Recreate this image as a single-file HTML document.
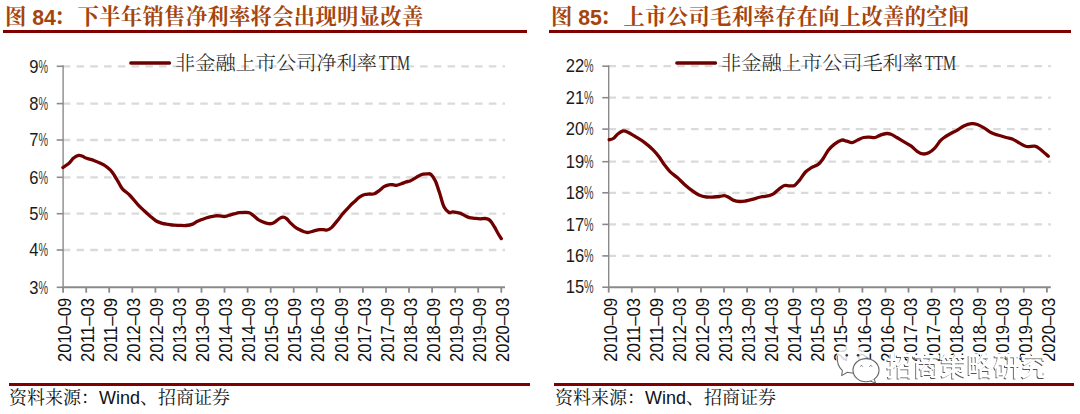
<!DOCTYPE html>
<html><head><meta charset="utf-8"><title>chart</title>
<style>
html,body{margin:0;padding:0;background:#fff;}
body{width:1080px;height:414px;overflow:hidden;position:relative;}
svg{position:absolute;left:0;top:0;}
.yl{font-family:'Liberation Sans', sans-serif;font-size:17.9px;fill:#1a1a1a;}
.pc{fill:#3a3a3a;}
.xl{font-family:'Liberation Sans', sans-serif;font-size:18.3px;fill:#111;}
.lg{font-family:'Noto Serif CJK SC','Liberation Serif',serif;font-size:19px;font-weight:300;fill:#222;}
.lgt{font-family:'Liberation Serif','Noto Serif CJK SC',serif;font-size:20px;fill:#333;}
.tt{font-family:'Liberation Sans','Noto Serif CJK SC',serif;font-size:21.3px;font-weight:bold;fill:#a5450c;}
.tn{font-weight:bold;}
.tc{letter-spacing:0.33px;}
.ft{font-family:'Liberation Sans','Noto Serif CJK SC',serif;font-size:18px;fill:#111;}
.wm{font-family:'Liberation Sans','Noto Sans CJK SC',sans-serif;font-size:26.5px;font-weight:500;fill:#fff;}
.wms{fill:#555;}
</style></head><body>
<svg width="1080" height="414" viewBox="0 0 1080 414">
<line x1="62.83" y1="66.3" x2="505.0" y2="66.3" stroke="#dadada" stroke-width="2.3" stroke-dasharray="7.55 6.19"/>
<line x1="62.83" y1="103.6" x2="505.0" y2="103.6" stroke="#dadada" stroke-width="2.3" stroke-dasharray="7.55 6.19"/>
<line x1="62.83" y1="140.0" x2="505.0" y2="140.0" stroke="#dadada" stroke-width="2.3" stroke-dasharray="7.55 6.19"/>
<line x1="62.83" y1="177.3" x2="505.0" y2="177.3" stroke="#dadada" stroke-width="2.3" stroke-dasharray="7.55 6.19"/>
<line x1="62.83" y1="213.7" x2="505.0" y2="213.7" stroke="#dadada" stroke-width="2.3" stroke-dasharray="7.55 6.19"/>
<line x1="62.83" y1="250.0" x2="505.0" y2="250.0" stroke="#dadada" stroke-width="2.3" stroke-dasharray="7.55 6.19"/>
<line x1="63.1" y1="65.3" x2="63.1" y2="287.3" stroke="#8a8a8a" stroke-width="1.4"/>
<line x1="56.7" y1="66.3" x2="63.1" y2="66.3" stroke="#8a8a8a" stroke-width="1.6"/>
<text y="72.5" class="yl"><tspan x="29.3" textLength="9.2" lengthAdjust="spacingAndGlyphs">9</tspan><tspan x="38.5" class="pc" textLength="9.6" lengthAdjust="spacingAndGlyphs">%</tspan></text>
<line x1="56.7" y1="103.6" x2="63.1" y2="103.6" stroke="#8a8a8a" stroke-width="1.6"/>
<text y="109.8" class="yl"><tspan x="29.3" textLength="9.2" lengthAdjust="spacingAndGlyphs">8</tspan><tspan x="38.5" class="pc" textLength="9.6" lengthAdjust="spacingAndGlyphs">%</tspan></text>
<line x1="56.7" y1="140.0" x2="63.1" y2="140.0" stroke="#8a8a8a" stroke-width="1.6"/>
<text y="146.2" class="yl"><tspan x="29.3" textLength="9.2" lengthAdjust="spacingAndGlyphs">7</tspan><tspan x="38.5" class="pc" textLength="9.6" lengthAdjust="spacingAndGlyphs">%</tspan></text>
<line x1="56.7" y1="177.3" x2="63.1" y2="177.3" stroke="#8a8a8a" stroke-width="1.6"/>
<text y="183.5" class="yl"><tspan x="29.3" textLength="9.2" lengthAdjust="spacingAndGlyphs">6</tspan><tspan x="38.5" class="pc" textLength="9.6" lengthAdjust="spacingAndGlyphs">%</tspan></text>
<line x1="56.7" y1="213.7" x2="63.1" y2="213.7" stroke="#8a8a8a" stroke-width="1.6"/>
<text y="219.9" class="yl"><tspan x="29.3" textLength="9.2" lengthAdjust="spacingAndGlyphs">5</tspan><tspan x="38.5" class="pc" textLength="9.6" lengthAdjust="spacingAndGlyphs">%</tspan></text>
<line x1="56.7" y1="250.0" x2="63.1" y2="250.0" stroke="#8a8a8a" stroke-width="1.6"/>
<text y="256.2" class="yl"><tspan x="29.3" textLength="9.2" lengthAdjust="spacingAndGlyphs">4</tspan><tspan x="38.5" class="pc" textLength="9.6" lengthAdjust="spacingAndGlyphs">%</tspan></text>
<line x1="56.7" y1="287.3" x2="63.1" y2="287.3" stroke="#8a8a8a" stroke-width="1.6"/>
<text y="293.5" class="yl"><tspan x="29.3" textLength="9.2" lengthAdjust="spacingAndGlyphs">3</tspan><tspan x="38.5" class="pc" textLength="9.6" lengthAdjust="spacingAndGlyphs">%</tspan></text>
<line x1="62.4" y1="287.3" x2="505.0" y2="287.3" stroke="#8a8a8a" stroke-width="2.1"/>
<line x1="63.1" y1="287.3" x2="63.1" y2="292.7" stroke="#8a8a8a" stroke-width="1.8"/>
<text transform="translate(70.7,297.9) rotate(-90)" text-anchor="end" class="xl" textLength="64" lengthAdjust="spacingAndGlyphs">2010–09</text>
<line x1="86.2" y1="287.3" x2="86.2" y2="292.7" stroke="#8a8a8a" stroke-width="1.8"/>
<text transform="translate(93.8,297.9) rotate(-90)" text-anchor="end" class="xl" textLength="64" lengthAdjust="spacingAndGlyphs">2011–03</text>
<line x1="109.2" y1="287.3" x2="109.2" y2="292.7" stroke="#8a8a8a" stroke-width="1.8"/>
<text transform="translate(116.8,297.9) rotate(-90)" text-anchor="end" class="xl" textLength="64" lengthAdjust="spacingAndGlyphs">2011–09</text>
<line x1="132.3" y1="287.3" x2="132.3" y2="292.7" stroke="#8a8a8a" stroke-width="1.8"/>
<text transform="translate(139.9,297.9) rotate(-90)" text-anchor="end" class="xl" textLength="64" lengthAdjust="spacingAndGlyphs">2012–03</text>
<line x1="155.4" y1="287.3" x2="155.4" y2="292.7" stroke="#8a8a8a" stroke-width="1.8"/>
<text transform="translate(163.0,297.9) rotate(-90)" text-anchor="end" class="xl" textLength="64" lengthAdjust="spacingAndGlyphs">2012–09</text>
<line x1="178.4" y1="287.3" x2="178.4" y2="292.7" stroke="#8a8a8a" stroke-width="1.8"/>
<text transform="translate(186.0,297.9) rotate(-90)" text-anchor="end" class="xl" textLength="64" lengthAdjust="spacingAndGlyphs">2013–03</text>
<line x1="201.5" y1="287.3" x2="201.5" y2="292.7" stroke="#8a8a8a" stroke-width="1.8"/>
<text transform="translate(209.1,297.9) rotate(-90)" text-anchor="end" class="xl" textLength="64" lengthAdjust="spacingAndGlyphs">2013–09</text>
<line x1="224.5" y1="287.3" x2="224.5" y2="292.7" stroke="#8a8a8a" stroke-width="1.8"/>
<text transform="translate(232.1,297.9) rotate(-90)" text-anchor="end" class="xl" textLength="64" lengthAdjust="spacingAndGlyphs">2014–03</text>
<line x1="247.6" y1="287.3" x2="247.6" y2="292.7" stroke="#8a8a8a" stroke-width="1.8"/>
<text transform="translate(255.2,297.9) rotate(-90)" text-anchor="end" class="xl" textLength="64" lengthAdjust="spacingAndGlyphs">2014–09</text>
<line x1="270.7" y1="287.3" x2="270.7" y2="292.7" stroke="#8a8a8a" stroke-width="1.8"/>
<text transform="translate(278.3,297.9) rotate(-90)" text-anchor="end" class="xl" textLength="64" lengthAdjust="spacingAndGlyphs">2015–03</text>
<line x1="293.7" y1="287.3" x2="293.7" y2="292.7" stroke="#8a8a8a" stroke-width="1.8"/>
<text transform="translate(301.3,297.9) rotate(-90)" text-anchor="end" class="xl" textLength="64" lengthAdjust="spacingAndGlyphs">2015–09</text>
<line x1="316.8" y1="287.3" x2="316.8" y2="292.7" stroke="#8a8a8a" stroke-width="1.8"/>
<text transform="translate(324.4,297.9) rotate(-90)" text-anchor="end" class="xl" textLength="64" lengthAdjust="spacingAndGlyphs">2016–03</text>
<line x1="339.9" y1="287.3" x2="339.9" y2="292.7" stroke="#8a8a8a" stroke-width="1.8"/>
<text transform="translate(347.5,297.9) rotate(-90)" text-anchor="end" class="xl" textLength="64" lengthAdjust="spacingAndGlyphs">2016–09</text>
<line x1="362.9" y1="287.3" x2="362.9" y2="292.7" stroke="#8a8a8a" stroke-width="1.8"/>
<text transform="translate(370.5,297.9) rotate(-90)" text-anchor="end" class="xl" textLength="64" lengthAdjust="spacingAndGlyphs">2017–03</text>
<line x1="386.0" y1="287.3" x2="386.0" y2="292.7" stroke="#8a8a8a" stroke-width="1.8"/>
<text transform="translate(393.6,297.9) rotate(-90)" text-anchor="end" class="xl" textLength="64" lengthAdjust="spacingAndGlyphs">2017–09</text>
<line x1="409.0" y1="287.3" x2="409.0" y2="292.7" stroke="#8a8a8a" stroke-width="1.8"/>
<text transform="translate(416.6,297.9) rotate(-90)" text-anchor="end" class="xl" textLength="64" lengthAdjust="spacingAndGlyphs">2018–03</text>
<line x1="432.1" y1="287.3" x2="432.1" y2="292.7" stroke="#8a8a8a" stroke-width="1.8"/>
<text transform="translate(439.7,297.9) rotate(-90)" text-anchor="end" class="xl" textLength="64" lengthAdjust="spacingAndGlyphs">2018–09</text>
<line x1="455.2" y1="287.3" x2="455.2" y2="292.7" stroke="#8a8a8a" stroke-width="1.8"/>
<text transform="translate(462.8,297.9) rotate(-90)" text-anchor="end" class="xl" textLength="64" lengthAdjust="spacingAndGlyphs">2019–03</text>
<line x1="478.2" y1="287.3" x2="478.2" y2="292.7" stroke="#8a8a8a" stroke-width="1.8"/>
<text transform="translate(485.8,297.9) rotate(-90)" text-anchor="end" class="xl" textLength="64" lengthAdjust="spacingAndGlyphs">2019–09</text>
<line x1="501.3" y1="287.3" x2="501.3" y2="292.7" stroke="#8a8a8a" stroke-width="1.8"/>
<text transform="translate(508.9,297.9) rotate(-90)" text-anchor="end" class="xl" textLength="64" lengthAdjust="spacingAndGlyphs">2020–03</text>
<path d="M62.9,167.6 C64.0,166.8 67.6,164.4 69.3,162.9 C71.0,161.4 71.8,159.6 73.3,158.3 C74.8,157.1 77.0,155.7 78.6,155.4 C80.1,155.1 81.3,155.8 82.6,156.3 C83.9,156.8 84.6,157.6 86.6,158.3 C88.6,159.0 91.6,159.6 94.5,160.7 C97.4,161.8 101.1,163.3 103.8,164.9 C106.5,166.5 108.7,168.4 110.5,170.2 C112.3,172.0 113.1,173.5 114.4,175.5 C115.7,177.5 117.1,180.0 118.4,182.2 C119.7,184.4 120.5,186.6 122.4,188.8 C124.3,191.0 127.4,192.8 130.0,195.5 C132.6,198.2 135.7,202.2 138.1,204.8 C140.5,207.4 142.2,208.9 144.2,210.8 C146.2,212.7 148.2,214.5 150.2,216.2 C152.2,217.9 154.2,219.8 156.2,221.0 C158.2,222.2 160.2,222.8 162.2,223.4 C164.2,224.0 166.3,224.1 168.3,224.4 C170.3,224.7 172.1,225.0 174.0,225.2 C175.9,225.4 178.0,225.3 180.0,225.4 C182.0,225.5 183.9,225.7 186.0,225.5 C188.1,225.3 190.9,224.8 192.7,224.1 C194.5,223.4 195.5,222.3 196.9,221.6 C198.3,220.9 199.6,220.4 201.0,219.8 C202.4,219.2 203.9,218.7 205.4,218.2 C206.9,217.7 208.3,217.2 210.0,216.8 C211.7,216.4 213.9,216.0 215.5,215.8 C217.1,215.7 218.1,215.8 219.5,215.9 C220.9,216.0 222.7,216.5 224.0,216.5 C225.3,216.5 226.4,216.1 227.5,215.8 C228.6,215.5 229.4,215.2 230.7,214.8 C231.9,214.5 233.6,214.0 235.0,213.7 C236.4,213.3 237.5,212.9 239.2,212.7 C240.9,212.5 243.4,212.3 245.1,212.3 C246.8,212.3 247.9,212.1 249.3,212.7 C250.7,213.2 251.9,214.4 253.5,215.6 C255.1,216.8 256.6,218.7 258.6,219.9 C260.6,221.1 263.3,222.2 265.4,222.8 C267.5,223.4 269.6,223.9 271.3,223.7 C273.0,223.5 274.1,222.5 275.5,221.6 C276.9,220.7 278.4,219.1 279.7,218.4 C281.0,217.7 282.0,217.2 283.1,217.2 C284.2,217.2 285.2,217.6 286.5,218.6 C287.8,219.6 289.3,221.8 290.7,223.2 C292.1,224.6 293.5,225.9 294.9,227.0 C296.3,228.1 297.8,228.8 299.2,229.6 C300.6,230.3 302.1,231.0 303.5,231.5 C304.9,232.0 305.8,232.6 307.6,232.5 C309.4,232.4 312.1,231.4 314.1,230.9 C316.1,230.4 318.0,229.8 319.6,229.6 C321.2,229.4 322.2,229.6 323.5,229.7 C324.8,229.8 325.9,230.3 327.2,230.0 C328.5,229.7 329.9,229.1 331.5,227.6 C333.1,226.1 335.0,223.5 337.0,221.1 C339.0,218.7 341.3,215.4 343.5,212.9 C345.7,210.4 348.1,207.9 350.0,205.9 C351.9,203.9 353.4,202.7 355.0,201.2 C356.6,199.7 358.2,198.0 359.8,196.9 C361.4,195.8 363.1,195.0 364.7,194.5 C366.3,194.0 367.9,194.1 369.5,194.0 C371.1,193.9 372.7,194.4 374.3,193.8 C375.9,193.2 377.6,191.8 379.2,190.6 C380.8,189.4 382.4,187.7 384.0,186.7 C385.6,185.7 387.2,185.1 388.8,184.8 C390.4,184.5 392.3,184.7 393.6,184.8 C394.9,184.9 395.2,185.5 396.5,185.3 C397.8,185.1 399.8,184.4 401.4,183.8 C403.0,183.2 404.8,182.4 406.2,181.9 C407.6,181.4 408.6,181.6 410.0,181.0 C411.4,180.4 412.9,179.4 414.3,178.6 C415.8,177.8 417.2,176.6 418.7,175.9 C420.1,175.2 421.6,174.5 423.0,174.2 C424.4,173.8 426.1,173.8 427.4,173.8 C428.7,173.9 429.7,173.3 431.0,174.5 C432.3,175.7 433.9,177.9 435.4,181.0 C436.8,184.1 438.2,189.0 439.7,193.3 C441.1,197.7 442.5,203.9 444.1,207.1 C445.7,210.3 447.7,211.7 449.1,212.5 C450.6,213.3 451.0,211.8 452.8,211.9 C454.6,212.0 457.8,212.6 459.8,213.2 C461.8,213.8 463.1,214.9 464.7,215.6 C466.3,216.3 467.9,217.1 469.5,217.6 C471.1,218.1 472.5,218.1 474.3,218.3 C476.1,218.5 478.3,218.8 480.1,218.8 C481.9,218.8 483.6,218.4 485.0,218.5 C486.4,218.6 487.7,218.8 488.8,219.5 C489.9,220.2 490.7,221.1 491.7,222.4 C492.7,223.7 493.6,225.5 494.6,227.2 C495.6,228.9 496.4,230.6 497.5,232.5 C498.6,234.4 500.7,237.6 501.3,238.6" fill="none" stroke="#700000" stroke-width="3.3" stroke-linejoin="round" stroke-linecap="round"/>
<line x1="608.50" y1="66.2" x2="1050.8" y2="66.2" stroke="#dadada" stroke-width="2.3" stroke-dasharray="7.55 6.19"/>
<line x1="608.50" y1="97.7" x2="1050.8" y2="97.7" stroke="#dadada" stroke-width="2.3" stroke-dasharray="7.55 6.19"/>
<line x1="608.50" y1="129.1" x2="1050.8" y2="129.1" stroke="#dadada" stroke-width="2.3" stroke-dasharray="7.55 6.19"/>
<line x1="608.50" y1="161.7" x2="1050.8" y2="161.7" stroke="#dadada" stroke-width="2.3" stroke-dasharray="7.55 6.19"/>
<line x1="608.50" y1="192.8" x2="1050.8" y2="192.8" stroke="#dadada" stroke-width="2.3" stroke-dasharray="7.55 6.19"/>
<line x1="608.50" y1="224.4" x2="1050.8" y2="224.4" stroke="#dadada" stroke-width="2.3" stroke-dasharray="7.55 6.19"/>
<line x1="608.50" y1="255.9" x2="1050.8" y2="255.9" stroke="#dadada" stroke-width="2.3" stroke-dasharray="7.55 6.19"/>
<line x1="608.7" y1="65.2" x2="608.7" y2="287.2" stroke="#8a8a8a" stroke-width="1.4"/>
<line x1="602.3" y1="66.2" x2="608.7" y2="66.2" stroke="#8a8a8a" stroke-width="1.6"/>
<text y="72.4" class="yl"><tspan x="565.7" textLength="18.4" lengthAdjust="spacingAndGlyphs">22</tspan><tspan x="584.1" class="pc" textLength="9.6" lengthAdjust="spacingAndGlyphs">%</tspan></text>
<line x1="602.3" y1="97.7" x2="608.7" y2="97.7" stroke="#8a8a8a" stroke-width="1.6"/>
<text y="103.9" class="yl"><tspan x="565.7" textLength="18.4" lengthAdjust="spacingAndGlyphs">21</tspan><tspan x="584.1" class="pc" textLength="9.6" lengthAdjust="spacingAndGlyphs">%</tspan></text>
<line x1="602.3" y1="129.1" x2="608.7" y2="129.1" stroke="#8a8a8a" stroke-width="1.6"/>
<text y="135.3" class="yl"><tspan x="565.7" textLength="18.4" lengthAdjust="spacingAndGlyphs">20</tspan><tspan x="584.1" class="pc" textLength="9.6" lengthAdjust="spacingAndGlyphs">%</tspan></text>
<line x1="602.3" y1="161.7" x2="608.7" y2="161.7" stroke="#8a8a8a" stroke-width="1.6"/>
<text y="167.9" class="yl"><tspan x="565.7" textLength="18.4" lengthAdjust="spacingAndGlyphs">19</tspan><tspan x="584.1" class="pc" textLength="9.6" lengthAdjust="spacingAndGlyphs">%</tspan></text>
<line x1="602.3" y1="192.8" x2="608.7" y2="192.8" stroke="#8a8a8a" stroke-width="1.6"/>
<text y="199.0" class="yl"><tspan x="565.7" textLength="18.4" lengthAdjust="spacingAndGlyphs">18</tspan><tspan x="584.1" class="pc" textLength="9.6" lengthAdjust="spacingAndGlyphs">%</tspan></text>
<line x1="602.3" y1="224.4" x2="608.7" y2="224.4" stroke="#8a8a8a" stroke-width="1.6"/>
<text y="230.6" class="yl"><tspan x="565.7" textLength="18.4" lengthAdjust="spacingAndGlyphs">17</tspan><tspan x="584.1" class="pc" textLength="9.6" lengthAdjust="spacingAndGlyphs">%</tspan></text>
<line x1="602.3" y1="255.9" x2="608.7" y2="255.9" stroke="#8a8a8a" stroke-width="1.6"/>
<text y="262.1" class="yl"><tspan x="565.7" textLength="18.4" lengthAdjust="spacingAndGlyphs">16</tspan><tspan x="584.1" class="pc" textLength="9.6" lengthAdjust="spacingAndGlyphs">%</tspan></text>
<line x1="602.3" y1="287.2" x2="608.7" y2="287.2" stroke="#8a8a8a" stroke-width="1.6"/>
<text y="293.4" class="yl"><tspan x="565.7" textLength="18.4" lengthAdjust="spacingAndGlyphs">15</tspan><tspan x="584.1" class="pc" textLength="9.6" lengthAdjust="spacingAndGlyphs">%</tspan></text>
<line x1="608.0" y1="287.2" x2="1050.8" y2="287.2" stroke="#8a8a8a" stroke-width="2.1"/>
<line x1="608.7" y1="287.2" x2="608.7" y2="292.6" stroke="#8a8a8a" stroke-width="1.8"/>
<text transform="translate(616.8,297.8) rotate(-90)" text-anchor="end" class="xl" textLength="64" lengthAdjust="spacingAndGlyphs">2010–09</text>
<line x1="631.8" y1="287.2" x2="631.8" y2="292.6" stroke="#8a8a8a" stroke-width="1.8"/>
<text transform="translate(639.9,297.8) rotate(-90)" text-anchor="end" class="xl" textLength="64" lengthAdjust="spacingAndGlyphs">2011–03</text>
<line x1="654.8" y1="287.2" x2="654.8" y2="292.6" stroke="#8a8a8a" stroke-width="1.8"/>
<text transform="translate(662.9,297.8) rotate(-90)" text-anchor="end" class="xl" textLength="64" lengthAdjust="spacingAndGlyphs">2011–09</text>
<line x1="677.9" y1="287.2" x2="677.9" y2="292.6" stroke="#8a8a8a" stroke-width="1.8"/>
<text transform="translate(686.0,297.8) rotate(-90)" text-anchor="end" class="xl" textLength="64" lengthAdjust="spacingAndGlyphs">2012–03</text>
<line x1="701.0" y1="287.2" x2="701.0" y2="292.6" stroke="#8a8a8a" stroke-width="1.8"/>
<text transform="translate(709.1,297.8) rotate(-90)" text-anchor="end" class="xl" textLength="64" lengthAdjust="spacingAndGlyphs">2012–09</text>
<line x1="724.0" y1="287.2" x2="724.0" y2="292.6" stroke="#8a8a8a" stroke-width="1.8"/>
<text transform="translate(732.1,297.8) rotate(-90)" text-anchor="end" class="xl" textLength="64" lengthAdjust="spacingAndGlyphs">2013–03</text>
<line x1="747.1" y1="287.2" x2="747.1" y2="292.6" stroke="#8a8a8a" stroke-width="1.8"/>
<text transform="translate(755.2,297.8) rotate(-90)" text-anchor="end" class="xl" textLength="64" lengthAdjust="spacingAndGlyphs">2013–09</text>
<line x1="770.1" y1="287.2" x2="770.1" y2="292.6" stroke="#8a8a8a" stroke-width="1.8"/>
<text transform="translate(778.2,297.8) rotate(-90)" text-anchor="end" class="xl" textLength="64" lengthAdjust="spacingAndGlyphs">2014–03</text>
<line x1="793.2" y1="287.2" x2="793.2" y2="292.6" stroke="#8a8a8a" stroke-width="1.8"/>
<text transform="translate(801.3,297.8) rotate(-90)" text-anchor="end" class="xl" textLength="64" lengthAdjust="spacingAndGlyphs">2014–09</text>
<line x1="816.3" y1="287.2" x2="816.3" y2="292.6" stroke="#8a8a8a" stroke-width="1.8"/>
<text transform="translate(824.4,297.8) rotate(-90)" text-anchor="end" class="xl" textLength="64" lengthAdjust="spacingAndGlyphs">2015–03</text>
<line x1="839.3" y1="287.2" x2="839.3" y2="292.6" stroke="#8a8a8a" stroke-width="1.8"/>
<text transform="translate(847.4,297.8) rotate(-90)" text-anchor="end" class="xl" textLength="64" lengthAdjust="spacingAndGlyphs">2015–09</text>
<line x1="862.4" y1="287.2" x2="862.4" y2="292.6" stroke="#8a8a8a" stroke-width="1.8"/>
<text transform="translate(870.5,297.8) rotate(-90)" text-anchor="end" class="xl" textLength="64" lengthAdjust="spacingAndGlyphs">2016–03</text>
<line x1="885.5" y1="287.2" x2="885.5" y2="292.6" stroke="#8a8a8a" stroke-width="1.8"/>
<text transform="translate(893.6,297.8) rotate(-90)" text-anchor="end" class="xl" textLength="64" lengthAdjust="spacingAndGlyphs">2016–09</text>
<line x1="908.5" y1="287.2" x2="908.5" y2="292.6" stroke="#8a8a8a" stroke-width="1.8"/>
<text transform="translate(916.6,297.8) rotate(-90)" text-anchor="end" class="xl" textLength="64" lengthAdjust="spacingAndGlyphs">2017–03</text>
<line x1="931.6" y1="287.2" x2="931.6" y2="292.6" stroke="#8a8a8a" stroke-width="1.8"/>
<text transform="translate(939.7,297.8) rotate(-90)" text-anchor="end" class="xl" textLength="64" lengthAdjust="spacingAndGlyphs">2017–09</text>
<line x1="954.6" y1="287.2" x2="954.6" y2="292.6" stroke="#8a8a8a" stroke-width="1.8"/>
<text transform="translate(962.7,297.8) rotate(-90)" text-anchor="end" class="xl" textLength="64" lengthAdjust="spacingAndGlyphs">2018–03</text>
<line x1="977.7" y1="287.2" x2="977.7" y2="292.6" stroke="#8a8a8a" stroke-width="1.8"/>
<text transform="translate(985.8,297.8) rotate(-90)" text-anchor="end" class="xl" textLength="64" lengthAdjust="spacingAndGlyphs">2018–09</text>
<line x1="1000.8" y1="287.2" x2="1000.8" y2="292.6" stroke="#8a8a8a" stroke-width="1.8"/>
<text transform="translate(1008.9,297.8) rotate(-90)" text-anchor="end" class="xl" textLength="64" lengthAdjust="spacingAndGlyphs">2019–03</text>
<line x1="1023.8" y1="287.2" x2="1023.8" y2="292.6" stroke="#8a8a8a" stroke-width="1.8"/>
<text transform="translate(1031.9,297.8) rotate(-90)" text-anchor="end" class="xl" textLength="64" lengthAdjust="spacingAndGlyphs">2019–09</text>
<line x1="1046.9" y1="287.2" x2="1046.9" y2="292.6" stroke="#8a8a8a" stroke-width="1.8"/>
<text transform="translate(1055.0,297.8) rotate(-90)" text-anchor="end" class="xl" textLength="64" lengthAdjust="spacingAndGlyphs">2020–03</text>
<path d="M609.2,139.7 C609.9,139.5 611.8,139.5 613.3,138.5 C614.8,137.5 616.5,134.9 618.1,133.7 C619.7,132.4 621.3,131.2 622.9,131.0 C624.5,130.8 625.6,131.2 627.8,132.2 C630.0,133.2 633.4,135.4 636.2,137.1 C639.0,138.8 641.9,140.5 644.7,142.6 C647.5,144.7 650.7,147.5 653.1,149.9 C655.5,152.3 657.4,154.7 659.2,157.1 C661.0,159.5 662.2,161.9 664.0,164.3 C665.8,166.7 667.8,169.4 670.0,171.6 C672.2,173.8 674.9,175.5 677.3,177.6 C679.7,179.7 682.1,182.3 684.5,184.4 C686.9,186.5 689.4,188.6 691.8,190.4 C694.2,192.2 696.6,193.9 699.0,195.0 C701.4,196.1 703.9,196.7 706.3,197.0 C708.7,197.3 711.3,197.1 713.5,197.0 C715.7,196.9 717.8,196.7 719.6,196.5 C721.4,196.3 722.9,195.5 724.4,195.6 C725.9,195.7 727.0,196.5 728.6,197.3 C730.2,198.1 731.9,199.7 733.7,200.4 C735.5,201.1 737.6,201.4 739.6,201.5 C741.6,201.6 743.4,201.3 745.5,201.0 C747.6,200.7 749.8,200.1 752.3,199.4 C754.8,198.7 757.9,197.6 760.7,197.0 C763.5,196.4 767.1,196.1 769.2,195.6 C771.3,195.1 771.7,195.0 773.4,193.9 C775.1,192.8 777.5,190.3 779.3,188.9 C781.1,187.5 782.7,186.0 784.4,185.5 C786.1,185.0 787.7,185.8 789.4,185.8 C791.1,185.8 792.8,186.4 794.5,185.5 C796.2,184.6 797.8,182.3 799.6,180.1 C801.4,177.8 803.5,174.1 805.5,172.0 C807.5,169.9 809.3,169.0 811.4,167.7 C813.5,166.4 816.2,165.9 818.2,164.4 C820.2,162.9 821.5,160.9 823.2,158.5 C824.9,156.1 826.6,152.4 828.5,150.0 C830.4,147.6 832.3,145.8 834.5,144.1 C836.7,142.4 839.7,140.6 841.7,140.1 C843.8,139.6 845.1,140.8 846.8,141.2 C848.5,141.6 850.1,142.8 851.9,142.6 C853.7,142.4 855.8,140.9 857.7,140.1 C859.6,139.2 861.6,138.0 863.5,137.5 C865.4,137.0 867.4,137.1 869.3,137.1 C871.2,137.1 873.2,137.9 875.1,137.5 C877.0,137.1 879.0,135.6 880.9,134.9 C882.8,134.2 885.0,133.6 886.7,133.5 C888.4,133.4 889.3,133.6 891.0,134.3 C892.7,135.0 894.6,136.2 896.8,137.5 C899.0,138.8 901.7,140.5 904.1,141.9 C906.5,143.3 909.1,144.6 911.3,146.2 C913.5,147.8 915.2,150.0 917.1,151.3 C919.0,152.6 921.0,153.7 922.9,153.9 C924.8,154.2 926.8,153.7 928.7,152.8 C930.6,151.9 932.6,150.3 934.5,148.4 C936.4,146.5 938.5,142.9 940.0,141.2 C941.5,139.5 941.8,139.2 943.5,138.0 C945.2,136.8 948.0,135.1 950.3,133.8 C952.5,132.5 954.8,131.7 957.0,130.4 C959.2,129.1 961.4,127.0 963.8,125.9 C966.2,124.8 969.1,123.9 971.4,123.7 C973.6,123.5 975.2,123.8 977.3,124.5 C979.4,125.2 981.8,126.6 984.1,127.9 C986.4,129.2 988.6,131.3 990.9,132.5 C993.1,133.7 995.1,134.2 997.6,135.0 C1000.1,135.8 1003.6,136.8 1006.1,137.5 C1008.6,138.2 1010.5,138.3 1012.8,139.2 C1015.0,140.1 1017.3,141.9 1019.6,143.1 C1021.9,144.3 1023.9,146.0 1026.4,146.5 C1028.9,147.0 1032.5,145.8 1034.8,146.2 C1037.0,146.6 1037.7,147.3 1039.9,149.0 C1042.2,150.7 1046.9,155.1 1048.3,156.3" fill="none" stroke="#700000" stroke-width="3.3" stroke-linejoin="round" stroke-linecap="round"/>
<line x1="130.8" y1="63" x2="169.5" y2="63" stroke="#6a0000" stroke-width="3.3" stroke-linecap="round"/>
<text y="70" class="lg"><tspan x="175.0" textLength="202" lengthAdjust="spacingAndGlyphs">非金融上市公司净利率</tspan><tspan x="379.0" class="lgt" textLength="31" lengthAdjust="spacingAndGlyphs">TTM</tspan></text>
<line x1="676.8" y1="63" x2="715.5" y2="63" stroke="#6a0000" stroke-width="3.3" stroke-linecap="round"/>
<text y="70" class="lg"><tspan x="721.0" textLength="202" lengthAdjust="spacingAndGlyphs">非金融上市公司毛利率</tspan><tspan x="925.0" class="lgt" textLength="31" lengthAdjust="spacingAndGlyphs">TTM</tspan></text>
<rect x="3" y="30" width="524" height="3" fill="#800000"/>
<rect x="549" y="30" width="522" height="3" fill="#800000"/>
<rect x="9" y="383" width="521" height="3" fill="#800000"/>
<rect x="554" y="383" width="520" height="3" fill="#800000"/>
<text x="5" y="23.9" class="tt">图 <tspan class="tn" dy="0.6">84</tspan><tspan class="tc" dx="-2" dy="-0.6">：</tspan><tspan class="tc" dx="2">下半年销售净利率将会出现明显改善</tspan></text>
<text x="551" y="23.9" class="tt">图 <tspan class="tn" dy="0.6">85</tspan><tspan class="tc" dx="-2" dy="-0.6">：</tspan><tspan class="tc" dx="2">上市公司毛利率存在向上改善的空间</tspan></text>
<text x="9" y="404" class="ft">资料来源：<tspan class="fw">Wind</tspan>、招商证券</text>
<text x="555" y="404" class="ft">资料来源：<tspan class="fw">Wind</tspan>、招商证券</text>

<g>
  <ellipse cx="851.5" cy="359" rx="15.5" ry="13.8" fill="#fff" fill-opacity="0.82"/>
  <path d="M837.2,355.5 Q836.6,365.5 842.4,370.6 L841.7,375.6 L847.3,372.3 Q850.5,373.2 854,373" fill="none" stroke="#6a6a6a" stroke-width="1.1" stroke-linejoin="round"/>
  <circle cx="846.8" cy="355.3" r="1.25" fill="#333"/><circle cx="858" cy="355.3" r="1.25" fill="#333"/>
  <ellipse cx="866" cy="370.2" rx="13" ry="11.6" fill="#fff" stroke="#666" stroke-width="1.1"/>
  <path d="M870.5,381.2 L875.5,383 L874.2,379" fill="#fff" stroke="#666" stroke-width="1"/>
  <path d="M860.3,366.6 q1.2,-2.6 2.4,0 M869.6,366.6 q1.2,-2.6 2.4,0" fill="none" stroke="#666" stroke-width="1"/>
  <filter id="ds" x="-5%" y="-20%" width="110%" height="140%"><feMorphology in="SourceAlpha" operator="dilate" radius="0.8" result="d"/><feFlood flood-color="#fff" result="w"/><feComposite in="w" in2="d" operator="in" result="halo"/><feOffset in="SourceAlpha" dx="-1" dy="1" result="o"/><feFlood flood-color="#555" result="g"/><feComposite in="g" in2="o" operator="in" result="sh"/><feMerge><feMergeNode in="halo"/><feMergeNode in="sh"/><feMergeNode in="SourceGraphic"/></feMerge></filter>
  <text x="886.6" y="375.8" class="wm" filter="url(#ds)" textLength="160.3" lengthAdjust="spacingAndGlyphs">招商策略研究</text>
</g>
</svg>
</body></html>
